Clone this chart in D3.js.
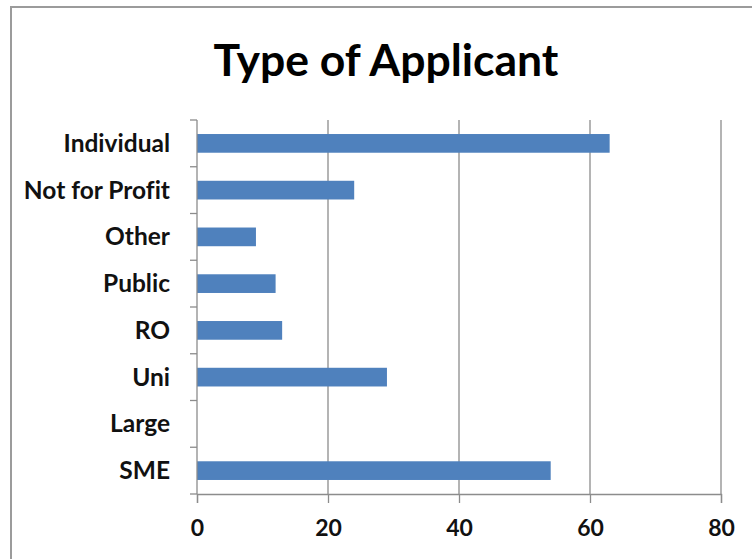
<!DOCTYPE html>
<html>
<head>
<meta charset="utf-8">
<script src="https://cdn.jsdelivr.net/npm/d3@7"></script>
<style>
  html, body { margin: 0; padding: 0; background: #fff; }
  svg { display: block; }
  text { font-variant-ligatures: none; }
</style>
</head>
<body>
<svg id="chart" width="752" height="559"></svg>
<script>
// Applicant types, top to bottom, with their counts
const categories = ["Individual", "Not for Profit", "Other", "Public", "RO", "Uni", "Large", "SME"];
const counts = [63, 24, 9, 12, 13, 29, 0, 54];
const xTicks = [0, 20, 40, 60, 80];
const chartTitle = "Type of Applicant";

const W = 752, H = 559;
const plot = { left: 197, right: 721, top: 120, bottom: 494 };
const barColor = "#4f81bd";
const gridColor = "#8c8c8c";
const labelFont = "Lato, 'Open Sans', sans-serif";

const svg = d3.select("#chart");

// chart area frame
svg.append("rect")
  .attr("x", 11).attr("y", 7)
  .attr("width", W + 20).attr("height", H + 20)
  .attr("fill", "#fff")
  .attr("stroke", "#9b9b9b")
  .attr("stroke-width", 2);

const x = d3.scaleLinear().domain([0, 80]).range([plot.left, plot.right]);
const y = d3.scaleBand().domain(categories).range([plot.top, plot.bottom]).paddingInner(0.6).paddingOuter(0.3);
const yEdges = d3.scaleBand().domain(categories).range([plot.top, plot.bottom]);

// vertical gridlines
svg.append("g")
  .selectAll("line")
  .data(xTicks.filter(d => d > 0))
  .join("line")
  .attr("x1", d => x(d)).attr("x2", d => x(d))
  .attr("y1", plot.top).attr("y2", plot.bottom)
  .attr("stroke", gridColor).attr("stroke-width", 1.3);

// bars
svg.append("g")
  .selectAll("rect")
  .data(categories.map((c, i) => ({ c, v: counts[i] })))
  .join("rect")
  .attr("x", x(0))
  .attr("y", d => y(d.c))
  .attr("width", d => x(d.v) - x(0))
  .attr("height", y.bandwidth())
  .attr("fill", barColor);

// bottom axis
const xAxis = svg.append("g")
  .attr("transform", `translate(0,${plot.bottom})`)
  .call(d3.axisBottom(x).tickValues(xTicks).tickSize(9).tickPadding(17));
xAxis.select(".domain").attr("stroke", gridColor).attr("stroke-width", 1.3);
xAxis.selectAll(".tick line").attr("stroke", gridColor).attr("stroke-width", 1.3);
xAxis.selectAll(".tick text")
  .attr("fill", "#111")
  .style("font-family", labelFont)
  .style("font-weight", "bold")
  .style("font-size", "23px");

// left axis: category boundaries as tick marks
const leftAxis = svg.append("g");
leftAxis.append("line")
  .attr("x1", plot.left).attr("x2", plot.left)
  .attr("y1", plot.top).attr("y2", plot.bottom)
  .attr("stroke", gridColor).attr("stroke-width", 1.3);
leftAxis.selectAll("line.sep")
  .data(categories)
  .join("line")
  .attr("class", "sep")
  .attr("x1", plot.left - 7).attr("x2", plot.left)
  .attr("y1", d => yEdges(d)).attr("y2", d => yEdges(d))
  .attr("stroke", gridColor).attr("stroke-width", 1.3);
leftAxis.append("line")
  .attr("x1", plot.left - 7).attr("x2", plot.left)
  .attr("y1", plot.bottom).attr("y2", plot.bottom)
  .attr("stroke", gridColor).attr("stroke-width", 1.3);

// category labels
svg.append("g")
  .selectAll("text")
  .data(categories)
  .join("text")
  .attr("x", 170)
  .attr("y", d => yEdges(d) + yEdges.bandwidth() / 2)
  .attr("dy", "0.35em")
  .attr("text-anchor", "end")
  .attr("fill", "#111")
  .style("font-family", labelFont)
  .style("font-weight", "bold")
  .style("font-size", "24.5px")
  .text(d => d);

// title
svg.append("text")
  .attr("x", 386)
  .attr("y", 76)
  .attr("text-anchor", "middle")
  .attr("fill", "#000")
  .style("font-family", labelFont)
  .style("font-weight", "bold")
  .style("font-size", "44.5px")
  .text(chartTitle);
</script>
</body>
</html>
